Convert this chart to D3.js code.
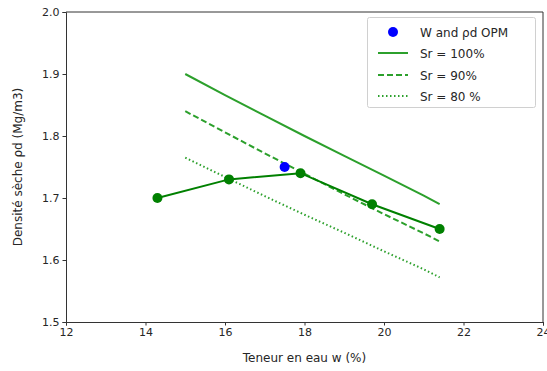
<!DOCTYPE html>
<html><head><meta charset="utf-8">
<script src="https://cdn.jsdelivr.net/npm/d3@7"></script>
<style>body{margin:0;background:#fff;}svg{display:block;font-family:"DejaVu Sans",sans-serif;}</style>
</head><body><svg id="c" width="547" height="371"></svg>
<script>
const compW = [14.3, 16.1, 17.9, 19.7, 21.4];
const compRho = [1.70, 1.73, 1.74, 1.69, 1.65];
const opmW = [17.5];
const opmRho = [1.75];
const srW = [15, 16, 17, 18, 19, 20, 21, 21.4];
const sr100 = [1.900, 1.866, 1.833, 1.800, 1.768, 1.736, 1.704, 1.690];
const sr90 = [1.840, 1.806, 1.772, 1.739, 1.706, 1.674, 1.643, 1.630];
const sr80 = [1.765, 1.734, 1.703, 1.673, 1.644, 1.614, 1.585, 1.572];
const xTicks = [12, 14, 16, 18, 20, 22, 24];
const yTicks = [1.5, 1.6, 1.7, 1.8, 1.9, 2.0];
const legendLabels = ["W and ρd OPM", "Sr = 100%", "Sr = 90%", "Sr = 80 %"];

const svg = d3.select("#c");
const L = 66, R = 543, T = 12, B = 322;
const x = d3.scaleLinear().domain([12, 24]).range([L, R]);
const y = d3.scaleLinear().domain([1.5, 2.0]).range([B, T]);
const dark = "#008000", light = "#2ca02c";

const xa = svg.append("g").attr("transform", `translate(0,${B})`)
  .call(d3.axisBottom(x).tickValues(xTicks).tickFormat(d3.format("d")).tickSize(3.5).tickPadding(3));
const ya = svg.append("g").attr("transform", `translate(${L},0)`)
  .call(d3.axisLeft(y).tickValues(yTicks).tickFormat(d3.format(".1f")).tickSize(3.5).tickPadding(3));
[xa, ya].forEach(a => {
  a.selectAll("text").attr("font-size", 11).attr("fill", "#262626").attr("font-family", "DejaVu Sans");
  a.selectAll("line").attr("stroke", "#333");
  a.select(".domain").attr("stroke", "#333");
});
svg.append("line").attr("x1", R).attr("x2", R).attr("y1", T).attr("y2", B).attr("stroke", "#333");
svg.append("line").attr("x1", L).attr("x2", R).attr("y1", T).attr("y2", T).attr("stroke", "#333");

const line = d3.line().x(d => x(d[0])).y(d => y(d[1]));
const srSeries = [
  {v: sr100, dash: null},
  {v: sr90, dash: "6,3"},
  {v: sr80, dash: "1.5,2.5"}
];
srSeries.forEach(s => {
  svg.append("path").datum(srW.map((w, i) => [w, s.v[i]]))
    .attr("d", line).attr("fill", "none").attr("stroke", light).attr("stroke-width", 2)
    .attr("stroke-dasharray", s.dash);
});
const comp = compW.map((w, i) => [w, compRho[i]]);
svg.append("path").datum(comp).attr("d", line).attr("fill", "none").attr("stroke", dark).attr("stroke-width", 2);
svg.selectAll(".cp").data(comp).enter().append("circle")
  .attr("cx", d => x(d[0])).attr("cy", d => y(d[1])).attr("r", 5).attr("fill", dark);
svg.selectAll(".op").data(opmW.map((w, i) => [w, opmRho[i]])).enter().append("circle")
  .attr("cx", d => x(d[0])).attr("cy", d => y(d[1])).attr("r", 5).attr("fill", "blue");

svg.append("text").attr("x", (L + R) / 2).attr("y", 362).attr("text-anchor", "middle")
  .attr("font-size", 12).attr("fill", "#262626").text("Teneur en eau w (%)");
svg.append("text").attr("transform", `translate(22,${(T + B) / 2}) rotate(-90)`).attr("text-anchor", "middle")
  .attr("font-size", 12).attr("fill", "#262626").text("Densité sèche ρd (Mg/m3)");

// legend
const lg = svg.append("g");
lg.append("rect").attr("x", 367.5).attr("y", 17.5).attr("width", 168).attr("height", 90).attr("rx", 2)
  .attr("fill", "white").attr("fill-opacity", 0.8).attr("stroke", "#d0d0d0");
const rowY = [32, 53, 75, 96];
legendLabels.forEach((t, i) => {
  if (i === 0) {
    lg.append("circle").attr("cx", 393).attr("cy", rowY[i]).attr("r", 5).attr("fill", "blue");
  } else {
    lg.append("line").attr("x1", 378).attr("x2", 408).attr("y1", rowY[i]).attr("y2", rowY[i])
      .attr("stroke", light).attr("stroke-width", 2).attr("stroke-dasharray", srSeries[i - 1].dash);
  }
  lg.append("text").attr("x", 420).attr("y", rowY[i] + 4.5).attr("font-size", 12).attr("fill", "#262626").text(t);
});
</script></body></html>
